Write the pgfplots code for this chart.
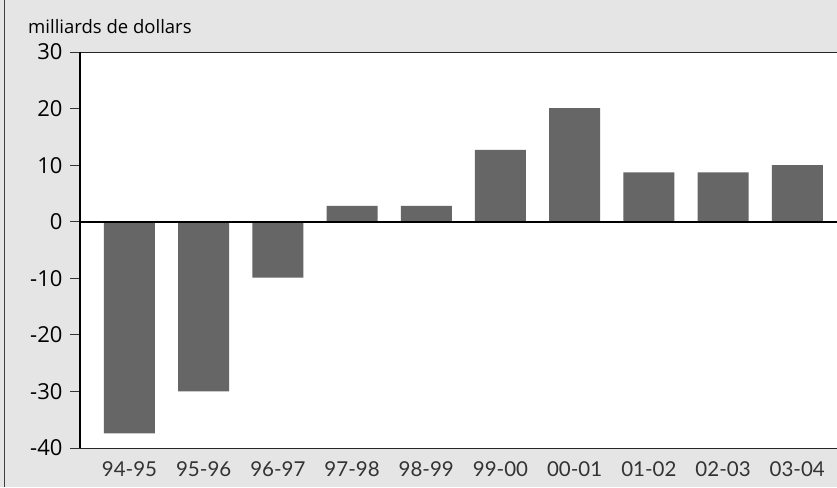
\documentclass[border=0pt]{standalone}
\usepackage{fontspec}
\setmainfont{Open Sans}
\newfontfamily\xfont{Lato}
\usepackage{pgfplots}
\pgfplotsset{compat=1.18}
\definecolor{bgray}{HTML}{E5E5E5}
\definecolor{bar}{HTML}{666666}

\begin{document}
\begin{tikzpicture}[x=1pt,y=1pt]
\useasboundingbox (0,0) rectangle (837,487);
\fill[bgray] (0,0) rectangle (837,487);
\draw[black!75, line width=0.8pt] (4,0) -- (4,487);
\node[anchor=base west, font=\fontsize{18.5}{20}\selectfont, inner sep=0pt] at (28,453) {milliards de dollars};
\begin{axis}[
    at={(80pt,39pt)}, anchor=south west,
    scale only axis,
    width=760pt, height=396pt,
    axis background/.style={fill=white},
    ybar, bar width=51pt,
    xmin=-0.667, xmax=9.576,
    ymin=-40, ymax=30,
    xtick=data,
    xticklabels={94-95,95-96,96-97,97-98,98-99,99-00,00-01,01-02,02-03,03-04},
    xtick style={draw=none},
    ytick={-40,-30,-20,-10,0,10,20,30},
    yticklabels={-40,-30,-20,-10,0,10,20,30},
    ytick pos=left,
    tick align=outside,
    major tick length=10pt,
    ytick style={black!80, line width=1pt},
    axis line style={black!85, line width=1pt},
    yticklabel style={font=\fontsize{22}{24}\selectfont, xshift=-4pt},
    xticklabel style={font=\xfont\fontsize{20.5}{24}\selectfont, color=black!80},
    clip=false,
]
\addplot[fill=bar, draw=none] coordinates {
    (0,-37.4) (1,-30) (2,-9.9) (3,2.8) (4,2.8)
    (5,12.7) (6,20.1) (7,8.7) (8,8.7) (9,10.0)
};
\addplot[sharp plot, black, line width=2.4pt, forget plot] coordinates {(-0.667,0) (9.576,0)};
\draw[black, line width=1.8pt] (axis cs:-0.667,-40) -- (axis cs:-0.667,30);
\end{axis}
\end{tikzpicture}
\end{document}
